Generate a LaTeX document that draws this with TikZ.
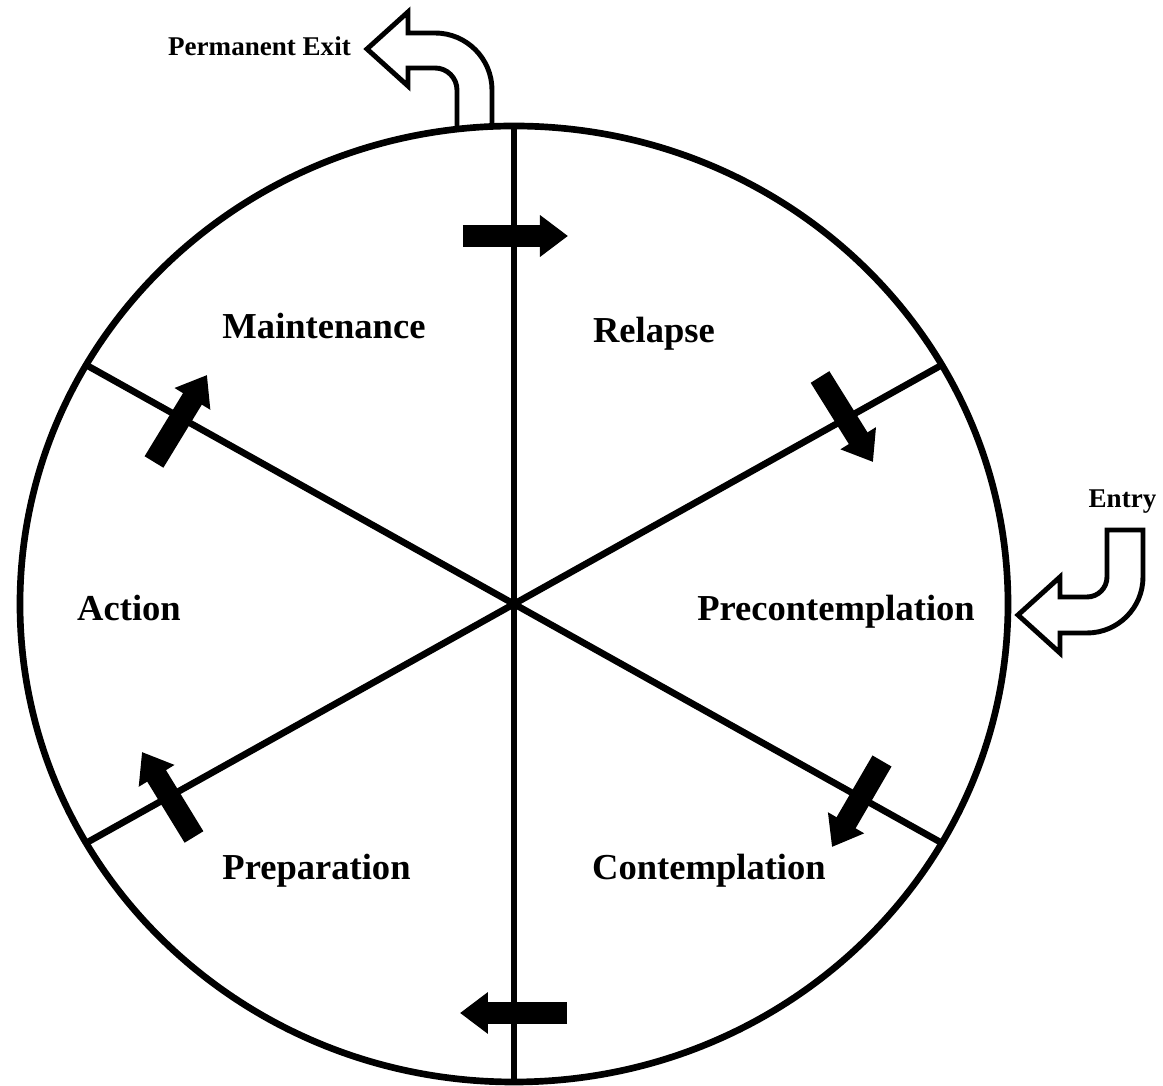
\documentclass[tikz,border=0pt]{standalone}
\usepackage{fontspec}
\setmainfont{Liberation Serif}
\usetikzlibrary{arrows.meta}

\begin{document}
\begin{tikzpicture}[
    stage/.style={anchor=base, font=\fontsize{10.4}{12}\selectfont\bfseries},
    tag/.style={anchor=base, font=\fontsize{7.7}{9}\selectfont\bfseries},
    flow/.style={line width=0.22cm, -{Triangle[length=0.28cm, width=0.40cm]}},
    hollow/.style={line width=1.4pt, line join=miter, fill=white},
    wheel/.style={line width=1.9pt}
  ]
    \useasboundingbox (-5.14,-4.82) rectangle (6.49,6.04);

    % Exit and entry arrows (outlined)
    \draw[hollow] (-0.57,4.70) -- (-0.57,5.14) arc[start angle=0, end angle=90, radius=0.22]
        -- (-1.06,5.36) -- (-1.06,5.18) -- (-1.47,5.55) -- (-1.06,5.92) -- (-1.06,5.71)
        -- (-0.79,5.71) arc[start angle=90, end angle=0, radius=0.57] -- (-0.22,4.70);
    \draw[hollow] (5.93,0.74) -- (5.93,0.27) arc[start angle=0, end angle=-90, radius=0.2]
        -- (5.46,0.07) -- (5.46,0.27) -- (5.04,-0.11) -- (5.46,-0.49) -- (5.46,-0.29)
        -- (5.73,-0.29) arc[start angle=-90, end angle=0, radius=0.56] -- (6.29,0.74) -- cycle;

    % The wheel and its spokes
    \coordinate (c) at (0,0);
    \coordinate (r30) at (30:4.94 and 4.78);
    \coordinate (r90) at (90:4.94 and 4.78);
    \coordinate (r150) at (150:4.94 and 4.78);
    \coordinate (r210) at (210:4.94 and 4.78);
    \coordinate (r270) at (270:4.94 and 4.78);
    \coordinate (r330) at (330:4.94 and 4.78);
    \draw[wheel, fill=white] (c) ellipse [x radius=4.94, y radius=4.78];
    \draw[wheel] (r90) -- (r270);
    \draw[wheel] (r30) -- (r210);
    \draw[wheel] (r150) -- (r330);

    % Arrows going round the wheel
    \draw[flow] (-0.51,3.68) -- (0.54,3.68);
    \draw[flow] (3.06,2.27) -- (3.59,1.42);
    \draw[flow] (3.68,-1.57) -- (3.18,-2.43);
    \draw[flow] (0.53,-4.09) -- (-0.54,-4.09);
    \draw[flow] (-3.20,-2.33) -- (-3.72,-1.48);
    \draw[flow] (-3.60,1.42) -- (-3.07,2.29);

    % Label the stages
    \node[stage] (maint) at (-1.90,2.65) {Maintenance};
    \node[stage] (relapse) at (1.40,2.61) {Relapse};
    \node[stage] (precon) at (3.22,-0.17) {Precontemplation};
    \node[stage] (action) at (-3.85,-0.17) {Action};
    \node[stage] (prep) at (-1.975,-2.76) {Preparation};
    \node[stage] (contem) at (1.95,-2.76) {Contemplation};
    \node[tag] (exit) at (-2.545,5.48) {Permanent Exit};
    \node[tag] (entry) at (6.085,0.96) {Entry};
\end{tikzpicture}
\end{document}
